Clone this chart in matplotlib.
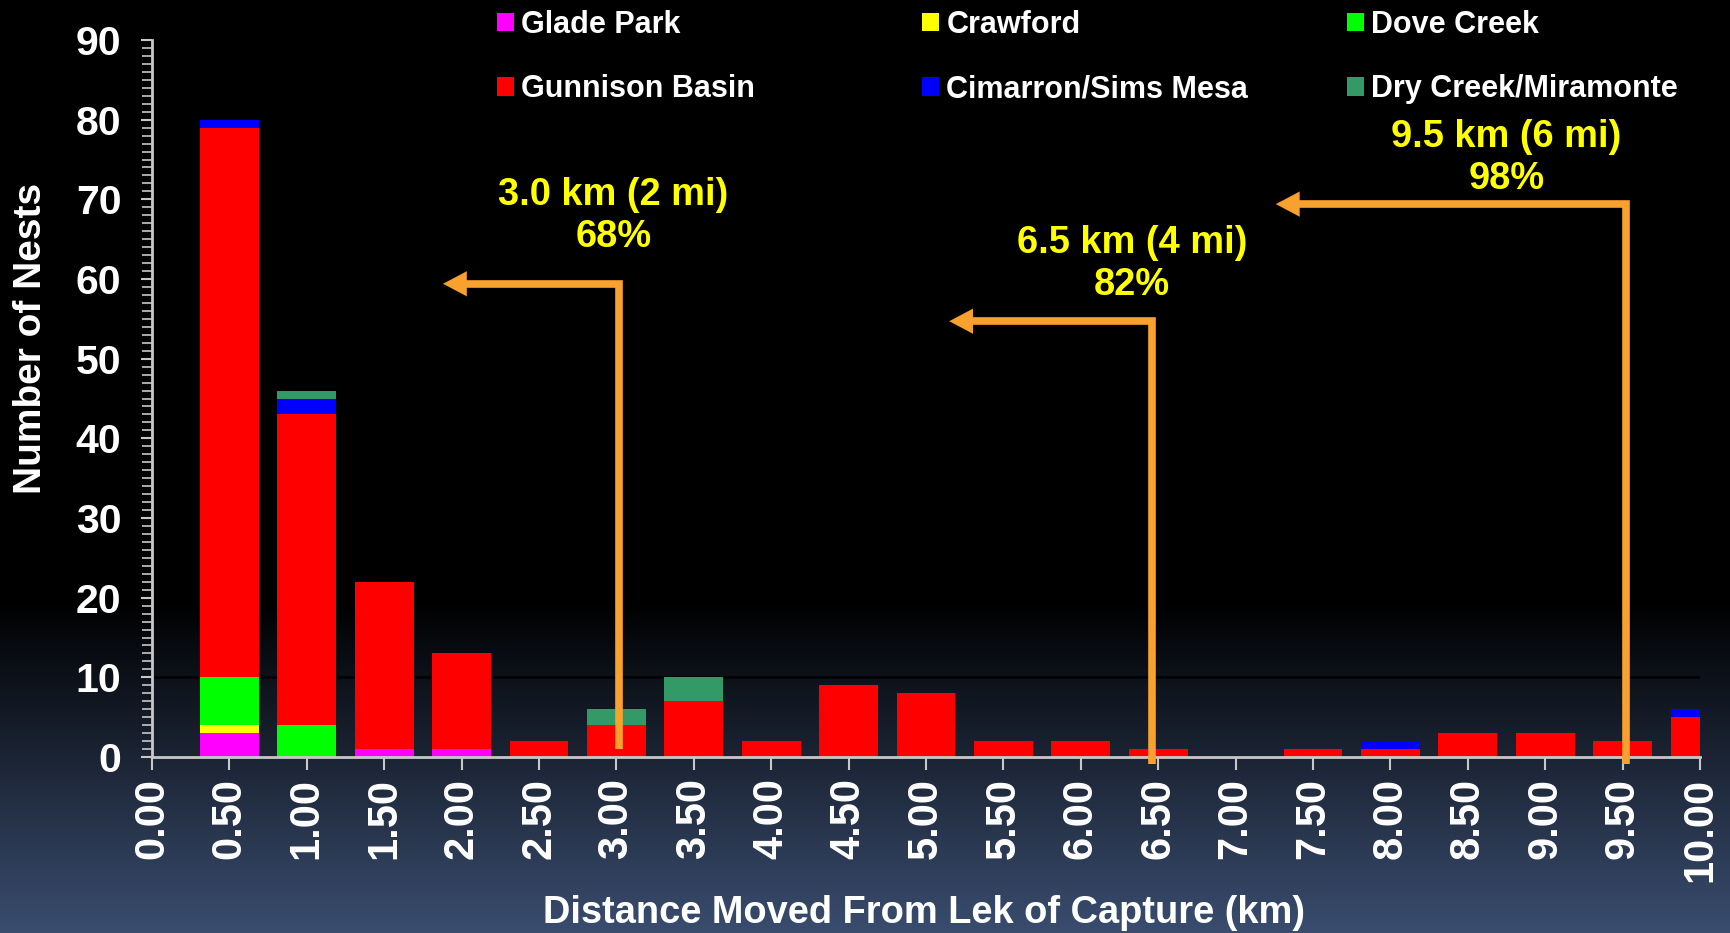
import numpy as np
import matplotlib
matplotlib.use("Agg")
import matplotlib.pyplot as plt
from matplotlib.patches import Patch

# ---- data ----
distances = [0.5, 1.0, 1.5, 2.0, 2.5, 3.0, 3.5, 4.0, 4.5, 5.0,
             5.5, 6.0, 6.5, 7.0, 7.5, 8.0, 8.5, 9.0, 9.5, 10.0]
tick_values = [0.0, 0.5, 1.0, 1.5, 2.0, 2.5, 3.0, 3.5, 4.0, 4.5, 5.0,
               5.5, 6.0, 6.5, 7.0, 7.5, 8.0, 8.5, 9.0, 9.5, 10.0]
tick_labels = ["%.2f" % v for v in tick_values]

series_names = ["Glade Park", "Crawford", "Dove Creek",
                "Gunnison Basin", "Cimarron/Sims Mesa", "Dry Creek/Miramonte"]
glade_park = [3, 0, 1, 1, 0, 0, 0, 0, 0, 0, 0, 0, 0, 0, 0, 0, 0, 0, 0, 0]
crawford   = [1, 0, 0, 0, 0, 0, 0, 0, 0, 0, 0, 0, 0, 0, 0, 0, 0, 0, 0, 0]
dove_creek = [6, 4, 0, 0, 0, 0, 0, 0, 0, 0, 0, 0, 0, 0, 0, 0, 0, 0, 0, 0]
gunnison   = [69, 39, 21, 12, 2, 4, 7, 2, 9, 8, 2, 2, 1, 0, 1, 1, 3, 3, 2, 5]
cimarron   = [1, 2, 0, 0, 0, 0, 0, 0, 0, 0, 0, 0, 0, 0, 0, 1, 0, 0, 0, 1]
dry_creek  = [0, 1, 0, 0, 0, 2, 3, 0, 0, 0, 0, 0, 0, 0, 0, 0, 0, 0, 0, 0]
series_values = [glade_park, crawford, dove_creek, gunnison, cimarron, dry_creek]
series_colors = ["#FF00FF", "#FFFF00", "#00FF00", "#FF0000", "#0000FF", "#339966"]

# annotations
ann_texts = ["3.0 km (2 mi)\n68%", "6.5 km (4 mi)\n82%", "9.5 km (6 mi)\n98%"]
ann_line_x = [3.02, 6.46, 9.52]
ann_line_bottom = [1.0, -0.9, -0.9]
ann_line_top = [59.4, 54.7, 69.4]
ann_tip_x = [1.88, 5.15, 7.26]
ann_text_x = [2.98, 6.33, 8.75]
ann_text_y = [67.9, 61.9, 75.2]

# ---- figure ----
W, H, DPI = 1731, 933, 100
fig = plt.figure(figsize=(W / DPI, H / DPI), dpi=DPI)
plt.rcParams['font.family'] = ['Liberation Sans', 'DejaVu Sans']

# background gradient
bg = fig.add_axes([0, 0, 1, 1], zorder=-10)
bg.set_axis_off()
t = np.linspace(0, 1, 933)
ramp = np.clip((t - 0.645) / 0.355, 0, 1)
bottom_rgb = np.array([0x3A, 0x4D, 0x6F]) / 255.0
img = ramp[:, None, None] * bottom_rgb[None, None, :]
img = np.repeat(img, 2, axis=1)
bg.imshow(img, aspect='auto', extent=[0, 1, 0, 1], origin='upper')
bg.set_xlim(0, 1); bg.set_ylim(0, 1)

ax = fig.add_axes([152 / W, 1 - 757 / H, (1700 - 152) / W, (757 - 40) / H])
ax.patch.set_alpha(0)

bottom = np.zeros(len(distances))
for name, vals, col in zip(series_names, series_values, series_colors):
    vals = np.array(vals, dtype=float)
    ax.bar(distances, vals, width=0.38, bottom=bottom, color=col,
           label=name, zorder=3, linewidth=0)
    bottom += vals

ax.set_xlim(0, 10)
ax.set_ylim(0, 90)
ax.set_yticks(np.arange(0, 91, 10))
ax.set_yticks(np.arange(0, 91, 1), minor=True)
ax.set_xticks(tick_values)
ax.set_xticklabels(tick_labels, rotation=90)
ax.grid(axis='y', which='major', color='black', linewidth=1.8, zorder=1)

for s in ['top', 'right']:
    ax.spines[s].set_visible(False)
for s in ['left', 'bottom']:
    ax.spines[s].set_color('#C8C8C8')
    ax.spines[s].set_linewidth(2)
    ax.spines[s].set_zorder(4)

ax.tick_params(axis='y', which='major', direction='out', length=8, width=1.5,
               colors='#C8C8C8', labelcolor='white', labelsize=29.5, pad=14)
ax.tick_params(axis='y', which='minor', direction='out', length=7, width=1.2,
               colors='#C8C8C8')
ax.tick_params(axis='x', which='major', direction='out', length=9, width=1.5,
               colors='#C8C8C8', labelcolor='white', labelsize=30, pad=6)
for lab in ax.get_xticklabels() + ax.get_yticklabels():
    lab.set_fontweight('bold')

fig.text(31 / W, 1 - 338 / H, "Number of Nests", rotation=90, color='white',
         fontsize=28, fontweight='bold', ha='center', va='center')
fig.text(924 / W, 1 - 913 / H, "Distance Moved From Lek of Capture (km)", color='white',
         fontsize=27.4, fontweight='bold', ha='center', va='center')

# annotations
orange = '#F9A12E'
for txt, lx, lb, lt, tx, px, py in zip(ann_texts, ann_line_x, ann_line_bottom,
                                         ann_line_top, ann_tip_x, ann_text_x, ann_text_y):
    ax.plot([lx, lx, tx + 0.15], [lb, lt, lt], color=orange, linewidth=5.5,
            solid_joinstyle='miter', solid_capstyle='butt', zorder=5, clip_on=False)
    ax.annotate('', xy=(tx, lt), xytext=(tx + 0.25, lt),
                arrowprops=dict(arrowstyle='-|>,head_length=0.85,head_width=0.45',
                                color=orange, lw=0.1, mutation_scale=20,
                                shrinkA=0, shrinkB=0),
                zorder=6, annotation_clip=False)
    ax.text(px, py, txt, color='#FFFF00', fontsize=27.4, fontweight='bold',
            ha='center', va='center', linespacing=1.22, zorder=6)

# legend: three columns of two entries each
handles = [Patch(facecolor=c, edgecolor='none') for c in series_colors]
col_x = [497, 922, 1347]
for ci in range(3):
    idx = [ci, ci + 3]
    leg = fig.legend([handles[i] for i in idx], [series_names[i] for i in idx],
                     loc='upper left', bbox_to_anchor=(col_x[ci] / W, 1 - 10 / H),
                     frameon=False, handlelength=0.55, handleheight=0.55,
                     handletextpad=0.25, borderpad=0, borderaxespad=0,
                     labelspacing=1.12, prop={'weight': 'bold', 'size': 22})
    for tx in leg.get_texts():
        tx.set_color('white')

fig.savefig("out.png", dpi=DPI, facecolor='black')
